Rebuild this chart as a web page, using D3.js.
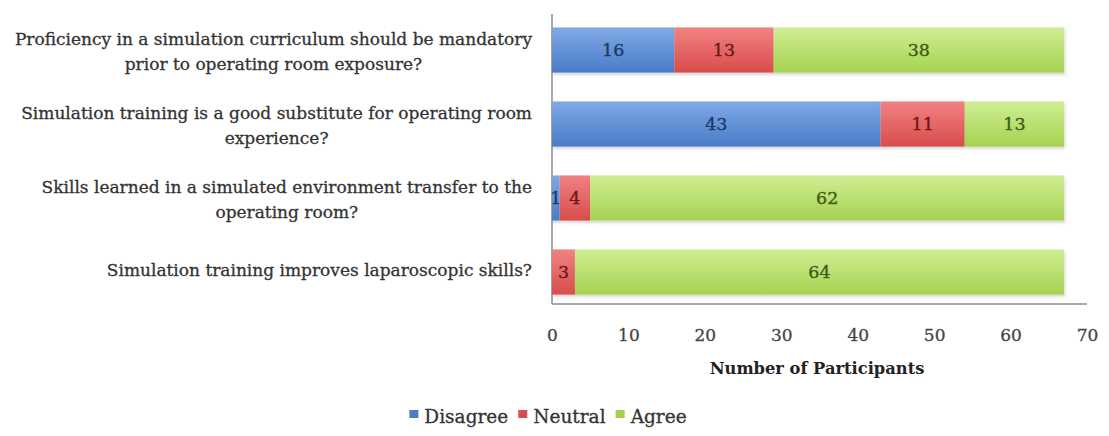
<!DOCTYPE html>
<html>
<head>
<meta charset="utf-8">
<script src="https://cdn.jsdelivr.net/npm/d3@7"></script>
<style>
  html, body { margin: 0; padding: 0; background: #fff; }
  svg { display: block; }
</style>
</head>
<body>
<svg id="chart" width="1109" height="436"></svg>
<script>
// Survey statements (top to bottom) and response counts
const questions = [
  ["Proficiency in a simulation curriculum should be mandatory", "prior to operating room exposure?"],
  ["Simulation training is a good substitute for operating room", "experience?"],
  ["Skills learned in a simulated environment transfer to the", "operating room?"],
  ["Simulation training improves laparoscopic skills?"]
];
const seriesNames = ["Disagree", "Neutral", "Agree"];
const disagree = [16, 43, 1, 0];
const neutral  = [13, 11, 4, 3];
const agree    = [38, 13, 62, 64];
const xTicks   = [0, 10, 20, 30, 40, 50, 60, 70];

const series = [disagree, neutral, agree];
const rows = questions.map((q, i) => {
  const r = { id: i, q };
  seriesNames.forEach((s, k) => r[s] = series[k][i]);
  return r;
});

const fontFamily = "'DejaVu Serif', 'Liberation Serif', serif";
const colors = {
  Disagree: { top: "#80a9e6", bottom: "#4a7cc8", text: "#1c3966" },
  Neutral:  { top: "#f28282", bottom: "#d94c4c", text: "#6e1616" },
  Agree:    { top: "#cfee93", bottom: "#a5d250", text: "#3f5a17" }
};

const svg = d3.select("#chart");
const plotLeft = 552, plotRight = 1087, plotTop = 14, plotBottom = 304;

const x = d3.scaleLinear().domain([0, 70]).range([plotLeft, plotRight]);
const y = d3.scaleBand().domain(rows.map(d => d.id)).range([13, 309]).paddingInner(0.39).paddingOuter(0.195);

// vertical gradients for the bars
const defs = svg.append("defs");
seriesNames.forEach(s => {
  const g = defs.append("linearGradient").attr("id", "grad-" + s)
    .attr("x1", 0).attr("y1", 0).attr("x2", 0).attr("y2", 1);
  g.append("stop").attr("offset", "0%").attr("stop-color", colors[s].top);
  g.append("stop").attr("offset", "100%").attr("stop-color", colors[s].bottom);
});
const shadow = defs.append("filter").attr("id", "shadow").attr("x", "-5%").attr("y", "-20%").attr("width", "110%").attr("height", "150%");
shadow.append("feDropShadow").attr("dx", 1).attr("dy", 2).attr("stdDeviation", 1.5).attr("flood-color", "#000").attr("flood-opacity", 0.18);

const stack = d3.stack().keys(seriesNames)(rows);

// frame: left and bottom axis lines
const frame = svg.append("g").attr("stroke", "#8c8c8c").attr("stroke-width", 1.5).attr("fill", "none");
frame.append("line").attr("x1", x(0)).attr("x2", x(0)).attr("y1", plotTop).attr("y2", plotBottom);
frame.append("line").attr("x1", x(0)).attr("x2", x(70)).attr("y1", plotBottom).attr("y2", plotBottom);

// stacked bars
const layers = svg.append("g").selectAll("g").data(stack).join("g")
  .attr("fill", d => `url(#grad-${d.key})`);
layers.each(function(layer) {
  d3.select(this).selectAll("rect").data(layer.filter(d => d[1] - d[0] > 0)).join("rect")
    .attr("x", d => x(d[0]))
    .attr("y", d => y(d.data.id))
    .attr("width", d => x(d[1]) - x(d[0]))
    .attr("height", y.bandwidth())
    .attr("filter", "url(#shadow)");
});

// value labels inside bars
layers.each(function(layer) {
  const key = layer.key;
  d3.select(this).selectAll("text").data(layer.filter(d => d[1] - d[0] > 0)).join("text")
    .attr("x", d => (x(d[0]) + x(d[1])) / 2)
    .attr("y", d => y(d.data.id) + y.bandwidth() / 2)
    .attr("dy", "0.36em")
    .attr("text-anchor", "middle")
    .attr("font-family", fontFamily)
    .attr("font-size", 17.5)
    .attr("fill", colors[key].text)
    .attr("stroke", colors[key].text)
    .attr("stroke-width", 0.35)
    .text(d => d[1] - d[0]);
});

// question labels, each block centred on its widest line and right-aligned
const labelRight = 532;
const lineGap = 25;
const lab = svg.append("g").attr("font-family", fontFamily).attr("font-size", 17)
  .attr("fill", "#333").attr("stroke", "#333").attr("stroke-width", 0.3);
rows.forEach(r => {
  const cy = y(r.id) + y.bandwidth() / 2 + (r.q.length > 1 ? 2 : -2);
  const g = lab.append("g");
  const texts = r.q.map((line, j) => g.append("text")
    .attr("y", cy + (j - (r.q.length - 1) / 2) * lineGap)
    .attr("dy", "0.35em")
    .attr("text-anchor", "middle")
    .text(line));
  const wMax = d3.max(texts, t => t.node().getComputedTextLength());
  texts.forEach(t => t.attr("x", labelRight - wMax / 2));
});

// x axis ticks
const axis = d3.axisBottom(x).tickValues(xTicks).tickSize(0).tickPadding(25);
const ax = svg.append("g").attr("transform", `translate(0,${plotBottom})`).call(axis);
ax.select(".domain").remove();
ax.selectAll("text").attr("font-family", fontFamily).attr("font-size", 17).attr("fill", "#444")
  .attr("stroke", "#444").attr("stroke-width", 0.3);

// axis title
svg.append("text")
  .attr("x", 817).attr("y", 368).attr("dy", "0.35em")
  .attr("text-anchor", "middle")
  .attr("font-family", fontFamily).attr("font-size", 16.3).attr("font-weight", "bold").attr("fill", "#222")
  .text("Number of Participants");

// legend
const legend = svg.append("g").attr("font-family", fontFamily).attr("font-size", 18.5)
  .attr("fill", "#333").attr("stroke", "#333").attr("stroke-width", 0.3);
const items = legend.selectAll("g").data(seriesNames).join("g");
items.append("rect").attr("width", 9).attr("height", 8).attr("y", -13).attr("stroke", "none").attr("fill", d => colors[d].bottom);
items.append("text").attr("x", 15).text(d => d);
let lx = 0;
items.each(function() {
  d3.select(this).attr("transform", `translate(${lx},0)`);
  lx += this.getBBox().width + 10;
});
const total = lx - 10;
legend.attr("transform", `translate(${548 - total / 2},423)`);
</script>
</body>
</html>
